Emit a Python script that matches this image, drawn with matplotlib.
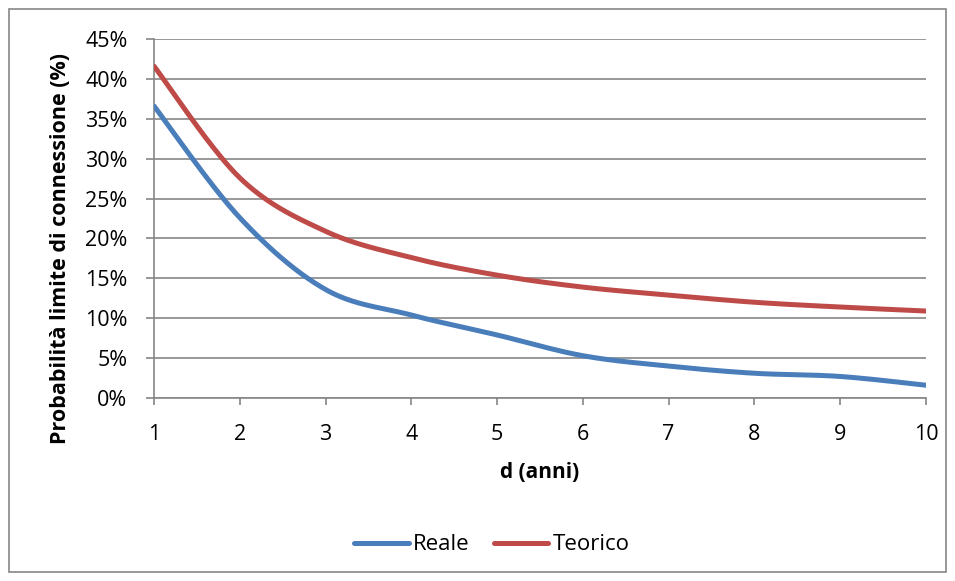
import numpy as np
import matplotlib
matplotlib.use("Agg")
import matplotlib.pyplot as plt
from matplotlib.patches import Rectangle
from matplotlib.ticker import FuncFormatter

plt.rcParams['font.family'] = ['Open Sans', 'DejaVu Sans']

# Data
anni = [1, 2, 3, 4, 5, 6, 7, 8, 9, 10]
reale = [36.6, 22.6, 13.6, 10.4, 7.9, 5.3, 4.0, 3.1, 2.7, 1.6]
teorico = [41.6, 27.6, 20.9, 17.6, 15.4, 13.9, 12.9, 12.0, 11.4, 10.9]
y_ticks = [0, 5, 10, 15, 20, 25, 30, 35, 40, 45]
series_names = ["Reale", "Teorico"]
x_label = "d (anni)"
y_label = "Probabilità limite di connessione (%)"

BLUE = "#4a7ebb"
RED = "#be4b48"
GRID = "#868686"


def smooth(x, y, n=40):
    """Catmull-Rom style cubic Bezier smoothing through every point."""
    x = np.asarray(x, float)
    y = np.asarray(y, float)
    px = np.concatenate([[x[0]], x, [x[-1]]])
    py = np.concatenate([[y[0]], y, [y[-1]]])
    xs, ys = [], []
    t = np.linspace(0, 1, n)
    for i in range(1, len(px) - 2):
        p0 = np.array([px[i], py[i]])
        p3 = np.array([px[i + 1], py[i + 1]])
        c1 = p0 + (np.array([px[i + 1], py[i + 1]]) - np.array([px[i - 1], py[i - 1]])) / 6
        c2 = p3 - (np.array([px[i + 2], py[i + 2]]) - np.array([px[i], py[i]])) / 6
        b = ((1 - t) ** 3)[:, None] * p0 + (3 * (1 - t) ** 2 * t)[:, None] * c1 \
            + (3 * (1 - t) * t ** 2)[:, None] * c2 + (t ** 3)[:, None] * p3
        xs.append(b[:, 0])
        ys.append(b[:, 1])
    return np.concatenate(xs), np.concatenate(ys)


W, H = 955, 581
fig = plt.figure(figsize=(W / 100, H / 100), dpi=100)
L, R, T, B = 154, 926, 39, 398
ax = fig.add_axes([L / W, 1 - B / H, (R - L) / W, (B - T) / H])

for vals, color, name in [(reale, BLUE, series_names[0]), (teorico, RED, series_names[1])]:
    sx, sy = smooth(anni, vals)
    ax.plot(sx, sy, color=color, lw=3.6, solid_capstyle='round', label=name, zorder=3)

ax.set_xlim(1, 10)
ax.set_ylim(0, 45)
ax.set_xticks(anni)
ax.set_yticks(y_ticks)
ax.yaxis.set_major_formatter(FuncFormatter(lambda v, p: f"{int(v)}%"))
ax.grid(axis='y', color=GRID, lw=1.2)
ax.set_axisbelow(True)
for s in ['top', 'right']:
    ax.spines[s].set_visible(False)
for s in ['left', 'bottom']:
    ax.spines[s].set_color(GRID)
    ax.spines[s].set_linewidth(1.2)
ax.tick_params(axis='both', colors=GRID, width=1.2, labelcolor='black', labelsize=15.5)
ax.tick_params(axis='x', length=5, pad=14)
ax.tick_params(axis='y', length=6, pad=13)

ax.set_xlabel(x_label, fontsize=15, fontweight='bold', va='center')
ax.xaxis.set_label_coords(0.5, (B - 473) / (B - T))
ax.set_ylabel(y_label, fontsize=15.5, fontweight='bold', va='center')
ax.yaxis.set_label_coords((60 - L) / (R - L), (B - 248) / (B - T))

leg = fig.legend(loc='center', bbox_to_anchor=(492 / W, 1 - 545 / H), ncol=2,
                 frameon=False, fontsize=16, handlelength=2.45, handletextpad=0.2,
                 columnspacing=1.1, borderpad=0, borderaxespad=0)

fig.patches.append(Rectangle((9 / W, 9 / H), (946 - 9) / W, (572 - 9) / H,
                             transform=fig.transFigure, fill=False,
                             edgecolor=GRID, lw=1.2))

fig.savefig("out.png", dpi=100)
